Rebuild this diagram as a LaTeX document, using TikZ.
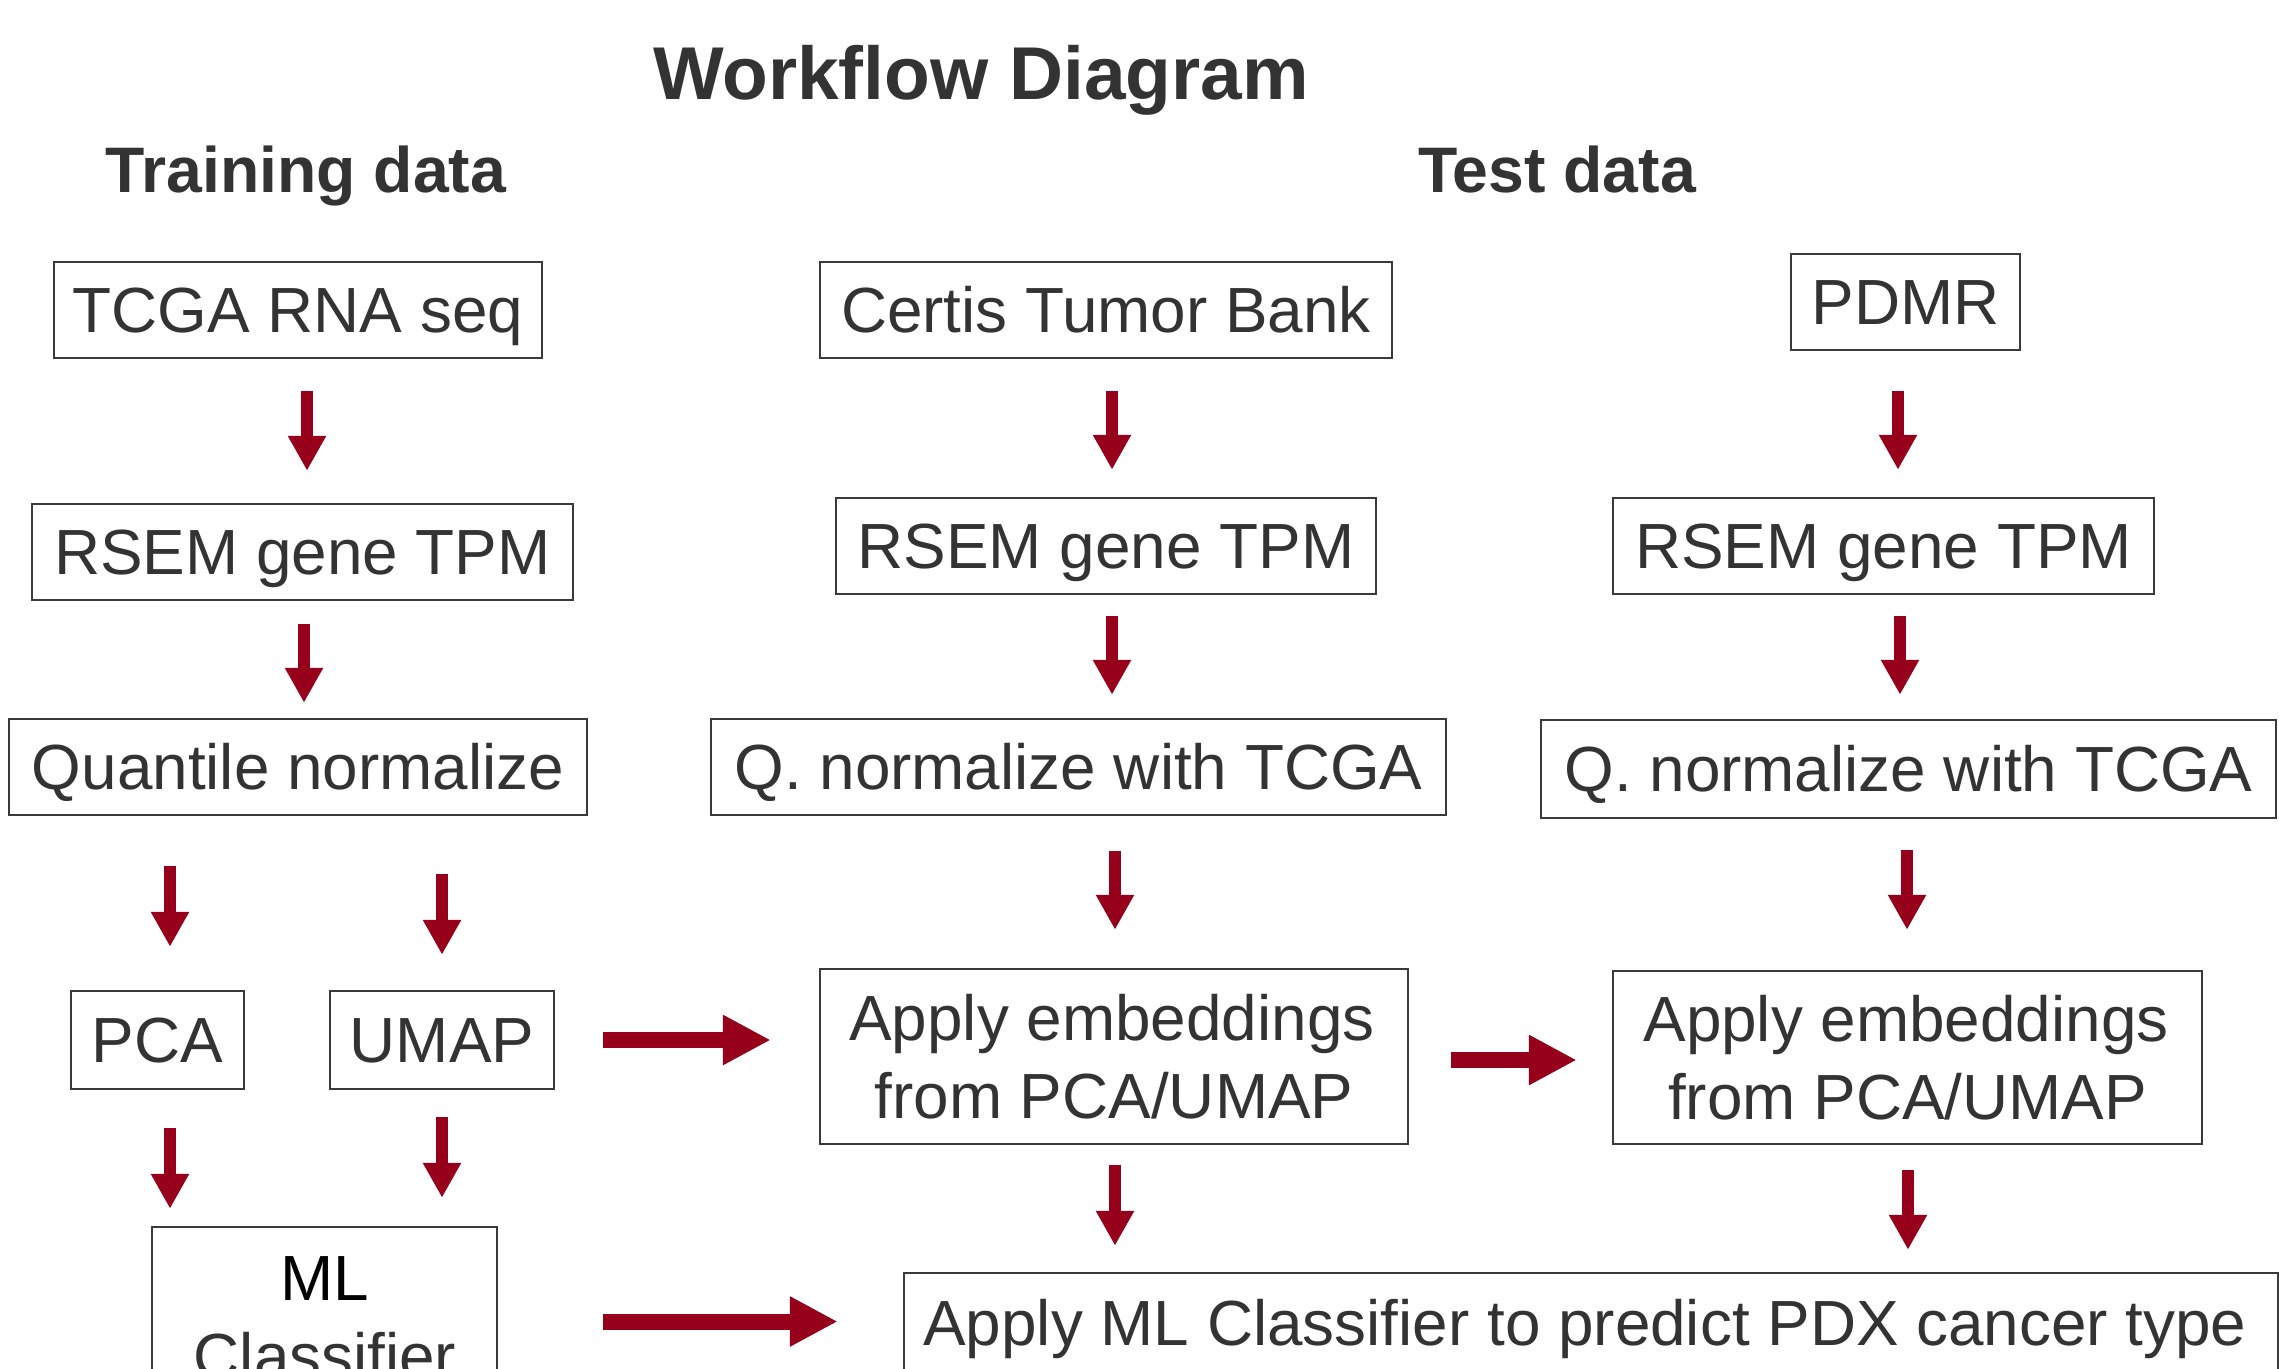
\documentclass[tikz,border=0pt]{standalone}
\usepackage{fontspec}
\setmainfont{Liberation Sans}
\usetikzlibrary{arrows.meta}
\definecolor{txtgray}{HTML}{333333}
\definecolor{boxgray}{HTML}{3A3A3A}
\definecolor{arrred}{HTML}{96001A}
\tikzset{
  box/.style={draw=boxgray, line width=0.75pt, inner sep=0pt, text=txtgray,
    font=\fontsize{19.15}{23.4}\selectfont, text height=13.7pt, text depth=0pt},
  lbl/.style={inner sep=0pt, text=txtgray, font=\fontsize{19.15}{23.4}\selectfont, anchor=base},
  head/.style={inner sep=0pt, anchor=base, text=txtgray},
  varrow/.style={arrred, line width=3.6pt, -{Triangle[length=10.5pt, width=10.8pt]}},
  harrow/.style={arrred, line width=4.8pt, -{Triangle[length=14.4pt, width=14.1pt]}},
}
\begin{document}
\begin{tikzpicture}[x=0.3pt, y=-0.3pt]
\useasboundingbox (0,0) rectangle (2279,1368);
\clip (0,0) rectangle (2279,1368);
\fill[white] (0,0) rectangle (2279,1368);

% headings
\node[head, font=\fontsize{22.45}{26}\selectfont\bfseries] (title) at (981,100) {Workflow Diagram};
\node[head, font=\fontsize{19.3}{23}\selectfont\bfseries] (train) at (306,193) {Training data};
\node[head, font=\fontsize{19.3}{23}\selectfont\bfseries] (test) at (1557,193) {Test data};

% boxes
\node[box, minimum width=488*0.3pt, minimum height=96*0.3pt] (tcga) at (298,310) {TCGA RNA seq};
\node[box, minimum width=572*0.3pt, minimum height=96*0.3pt] (certis) at (1106,310) {Certis Tumor Bank};
\node[box, minimum width=229*0.3pt, minimum height=96*0.3pt] (pdmr) at (1905.5,302) {PDMR};
\node[box, minimum width=541*0.3pt, minimum height=96*0.3pt] (rsem1) at (302.5,552) {RSEM gene TPM};
\node[box, minimum width=540*0.3pt, minimum height=96*0.3pt] (rsem2) at (1106,546) {RSEM gene TPM};
\node[box, minimum width=541*0.3pt, minimum height=96*0.3pt] (rsem3) at (1883.5,546) {RSEM gene TPM};
\node[box, minimum width=578*0.3pt, minimum height=96*0.3pt] (qn1) at (298,767) {Quantile normalize};
\node[box, minimum width=735*0.3pt, minimum height=96*0.3pt] (qn2) at (1078.5,767) {Q. normalize with TCGA};
\node[box, minimum width=735*0.3pt, minimum height=98*0.3pt] (qn3) at (1908.5,769) {Q. normalize with TCGA};
\node[box, minimum width=173*0.3pt, minimum height=98*0.3pt] (pca) at (157.5,1040) {PCA};
\node[box, minimum width=224*0.3pt, minimum height=98*0.3pt] (umap) at (442,1040) {UMAP};
\node[box, minimum width=588*0.3pt, minimum height=175*0.3pt] (apply1) at (1114,1056.5) {};
\node[box, minimum width=589*0.3pt, minimum height=173*0.3pt] (apply2) at (1907.5,1057.5) {};
\node[box, minimum width=345*0.3pt, minimum height=176*0.3pt] (ml) at (324.5,1315) {};
\node[box, minimum width=1374*0.3pt, minimum height=97*0.3pt] (applyml) at (1591,1321.5) {};

% texts placed by baseline
\node[lbl] (applymlt) at (1585,1345) {Apply ML Classifier to predict PDX cancer type};
\node[lbl] (apply1a) at (1112,1040) {Apply embeddings};
\node[lbl] (apply1b) at (1114,1118) {from PCA/UMAP};
\node[lbl] (apply2a) at (1906,1041) {Apply embeddings};
\node[lbl] (apply2b) at (1907.5,1119) {from PCA/UMAP};
\node[lbl, text=black] (mla) at (325,1300) {ML};
\node[lbl] (mlb) at (325,1378) {Classifier};

% vertical arrows
\draw[varrow, shorten <=32*0.3pt, shorten >=32*0.3pt] (tcga.south -| 307,0) -- (rsem1.north -| 307,0);
\draw[varrow, shorten <=23*0.3pt, shorten >=15*0.3pt] (rsem1.south -| 304,0) -- (qn1.north -| 304,0);
\draw[varrow, shorten <=32*0.3pt, shorten >=27*0.3pt] (certis.south -| 1112,0) -- (rsem2.north -| 1112,0);
\draw[varrow, shorten <=21*0.3pt, shorten >=23*0.3pt] (rsem2.south -| 1112,0) -- (qn2.north -| 1112,0);
\draw[varrow, shorten <=35*0.3pt, shorten >=38*0.3pt] (qn2.south -| 1115,0) -- (apply1.north -| 1115,0);
\draw[varrow, shorten <=20*0.3pt, shorten >=26*0.3pt] (apply1.south -| 1115,0) -- (applyml.north -| 1115,0);
\draw[varrow, shorten <=40*0.3pt, shorten >=27*0.3pt] (pdmr.south -| 1898,0) -- (rsem3.north -| 1898,0);
\draw[varrow, shorten <=21*0.3pt, shorten >=24*0.3pt] (rsem3.south -| 1900,0) -- (qn3.north -| 1900,0);
\draw[varrow, shorten <=31*0.3pt, shorten >=40*0.3pt] (qn3.south -| 1907,0) -- (apply2.north -| 1907,0);
\draw[varrow, shorten <=25*0.3pt, shorten >=22*0.3pt] (apply2.south -| 1908,0) -- (applyml.north -| 1908,0);
\draw[varrow, shorten <=50*0.3pt, shorten >=43*0.3pt] (qn1.south -| 170,0) -- (pca.north -| 170,0);
\draw[varrow, shorten <=58*0.3pt, shorten >=35*0.3pt] (qn1.south -| 442,0) -- (umap.north -| 442,0);
\draw[varrow, shorten <=38*0.3pt, shorten >=17*0.3pt] (pca.south -| 170,0) -- (ml.north -| 170,0);
\draw[varrow, shorten <=27*0.3pt, shorten >=28*0.3pt] (umap.south -| 442,0) -- (ml.north -| 442,0);

% horizontal arrows
\draw[harrow, shorten <=48*0.3pt, shorten >=48*0.3pt] (umap.east) -- (apply1.west |- umap.east);
\draw[harrow, shorten <=42*0.3pt, shorten >=35*0.3pt] (apply1.east |- 0,1060) -- (apply2.west |- 0,1060);
\draw[harrow, shorten <=105*0.3pt, shorten >=65*0.3pt] (ml.east |- applyml.west) -- (applyml.west);
\end{tikzpicture}
\end{document}
